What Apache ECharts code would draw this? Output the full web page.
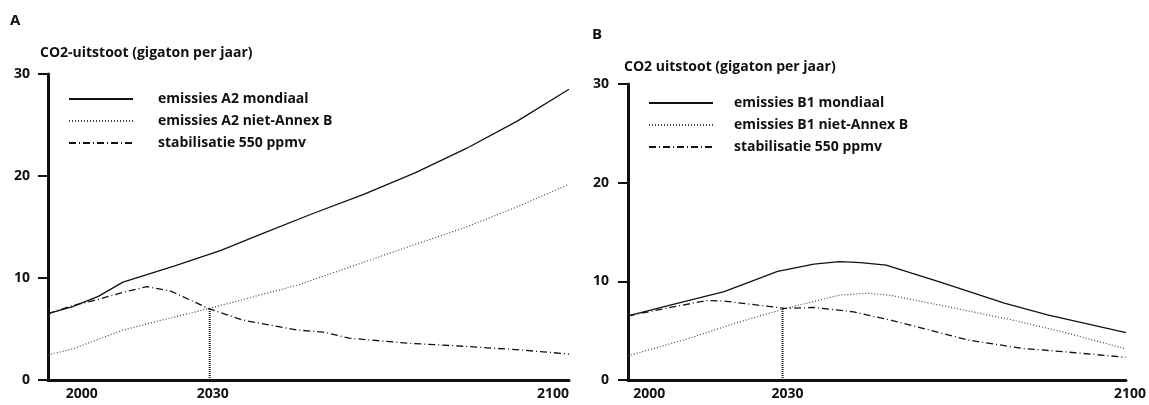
<!DOCTYPE html>
<html><head><meta charset="utf-8">
<script src="https://cdn.jsdelivr.net/npm/echarts@6/dist/echarts.min.js"></script>
<style>html,body{margin:0;padding:0;background:#fff}#c{width:1149px;height:405px}</style>
</head><body><div id="c"></div>
<script>
// ---- data ----
const yMax = 30;
const yStep = 10;
const xTickYears = [2000, 2030, 2100];
const xStartYear = 1998.5;
const xEndYear = 2100;

// Panel A
const a2WorldYears  = [1998.5, 2003.3, 2008.3, 2013.1, 2023.2, 2032.2, 2040, 2050, 2060, 2070, 2080, 2090, 2100];
const a2WorldValues = [6.5, 7.2, 8.2, 9.6, 11.2, 12.7, 14.3, 16.3, 18.2, 20.3, 22.7, 25.4, 28.5];
const a2NonAnnexYears  = [1998.5, 2003.6, 2013.1, 2021.7, 2029.8, 2047.1, 2066.6, 2080, 2090, 2100];
const a2NonAnnexValues = [2.45, 3.1, 4.9, 6.0, 7.0, 9.3, 12.7, 15.0, 17.0, 19.2];
const a2StabYears  = [1998.5, 2003.3, 2008.3, 2013.1, 2017.7, 2022.5, 2026.8, 2029.8, 2036.2, 2047.1, 2052.1, 2057.2, 2068.8, 2079.7, 2090.5, 2100];
const a2StabValues = [6.5, 7.3, 7.9, 8.6, 9.15, 8.7, 7.7, 7.0, 5.9, 4.9, 4.7, 4.1, 3.6, 3.3, 2.95, 2.55];

// Panel B
const b1WorldYears  = [1998.5, 2007.1, 2018.1, 2029.0, 2036.4, 2041.6, 2045.9, 2051.1, 2062.0, 2075.2, 2084.0, 2100];
const b1WorldValues = [6.5, 7.6, 8.95, 11.0, 11.75, 12.0, 11.9, 11.65, 9.95, 7.8, 6.6, 4.8];
const b1NonAnnexYears  = [1998.5, 2010.8, 2020.3, 2030.6, 2041.6, 2047.4, 2051.8, 2062, 2076.7, 2087.7, 2100];
const b1NonAnnexValues = [2.45, 4.2, 5.75, 7.25, 8.6, 8.8, 8.6, 7.6, 6.1, 4.8, 3.15];
const b1StabYears  = [1998.5, 2007.1, 2014.5, 2018.1, 2030.6, 2036.4, 2044.5, 2052.6, 2067.8, 2078.9, 2087.7, 2100];
const b1StabValues = [6.5, 7.35, 8.05, 8.0, 7.25, 7.35, 6.9, 6.0, 4.05, 3.2, 2.85, 2.3];

// vertical drop lines at 2030
const dropYear = 2030;
const dropValueA = 7.0;
const dropValueB = 7.25;

const namesA = ['emissies A2 mondiaal', 'emissies A2 niet-Annex B', 'stabilisatie 550 ppmv'];
const namesB = ['emissies B1 mondiaal', 'emissies B1 niet-Annex B', 'stabilisatie 550 ppmv '];
const titleA = 'CO2-uitstoot (gigaton per jaar)';
const titleB = 'CO2 uitstoot (gigaton per jaar)';

// ---- build ----
const pair = (xs, ys) => xs.map((x, i) => [x, ys[i]]);
const FONT = '"Open Sans", "DejaVu Sans", sans-serif';
const INK = '#111';
const FS = 14;

const solid = { color: INK, width: 1.3, type: 'solid' };
const dotted = { color: '#444', width: 1.2, type: [1, 2] };
const dashdot = { color: INK, width: 1.3, type: [7, 3, 1, 3] };
const dropStyle = { color: INK, width: 2, type: [1, 1] };

function lineSeries(name, xs, ys, style, idx) {
  return {
    type: 'line', name, data: pair(xs, ys), xAxisIndex: idx, yAxisIndex: idx,
    symbol: 'none', showSymbol: false, lineStyle: style, itemStyle: { color: style.color },
    silent: true, z: 3
  };
}

function xLabelFormatter(shifts) {
  return function (v) {
    const k = 'y' + v;
    return shifts[k] !== undefined ? '{' + k + '|' + v + '}' : String(v);
  };
}
function richFor(shifts) {
  const r = {};
  Object.keys(shifts).forEach(k => {
    const d = shifts[k];
    r[k] = { fontFamily: FONT, fontWeight: 'bold', fontSize: FS, color: INK,
      padding: d >= 0 ? [0, 0, 0, 2 * d] : [0, -2 * d, 0, 0] };
  });
  return r;
}
const shiftsA = { y2000: 26, y2030: 3, y2100: -16 };
const shiftsB = { y2000: 14, y2030: 5, y2100: 4 };

function xAxis(idx, shifts) {
  return {
    type: 'value', gridIndex: idx, min: xStartYear, max: xEndYear,
    axisLine: { show: true, lineStyle: { color: INK, width: 3 } },
    axisTick: { show: false }, splitLine: { show: false },
    axisLabel: {
      customValues: xTickYears, margin: 7, formatter: xLabelFormatter(shifts), rich: richFor(shifts),
      fontFamily: FONT, fontWeight: 'bold', fontSize: FS, color: INK, showMinLabel: true, showMaxLabel: true
    }
  };
}
function yAxis(idx, margin) {
  return {
    type: 'value', gridIndex: idx, min: 0, max: yMax, interval: yStep,
    axisLine: { show: true, onZero: false, lineStyle: { color: INK, width: 3 } },
    axisTick: { show: true, inside: false, length: 10, lineStyle: { color: INK, width: 2 } },
    splitLine: { show: false },
    axisLabel: { margin, fontFamily: FONT, fontWeight: 'bold', fontSize: FS, color: INK }
  };
}
function legend(names, left, top, pad) {
  return {
    data: names, left, top, orient: 'vertical', itemWidth: 64, itemHeight: 14, itemGap: 8,
    padding: 0, selectedMode: false,
    itemStyle: { opacity: 0 },
    formatter: (n) => n.trim(),
    textStyle: { fontFamily: FONT, fontWeight: 'bold', fontSize: FS, color: INK, padding: [0, 0, 0, pad] }
  };
}
const titleStyle = (size) => ({ fontFamily: FONT, fontWeight: 'bold', fontSize: size, color: INK });

const option = {
  animation: false,
  backgroundColor: '#fff',
  title: [
    { text: 'A', left: 10, top: 13, padding: 0, textStyle: titleStyle(15) },
    { text: titleA, left: 40, top: 46, padding: 0, textStyle: titleStyle(FS) },
    { text: 'B', left: 592, top: 27, padding: 0, textStyle: titleStyle(15) },
    { text: titleB, left: 624, top: 60, padding: 0, textStyle: titleStyle(FS) }
  ],
  legend: [legend(namesA, 68, 92, 20), legend(namesB, 648, 96, 16)],
  grid: [
    { left: 48, right: 580, top: 74, bottom: 25, containLabel: false },
    { left: 628, right: 19, top: 84, bottom: 25, containLabel: false }
  ],
  xAxis: [xAxis(0, shiftsA), xAxis(1, shiftsB)],
  yAxis: [yAxis(0, 18), yAxis(1, 19)],
  series: [
    lineSeries(namesA[0], a2WorldYears, a2WorldValues, solid, 0),
    lineSeries(namesA[1], a2NonAnnexYears, a2NonAnnexValues, dotted, 0),
    lineSeries(namesA[2], a2StabYears, a2StabValues, dashdot, 0),
    lineSeries('drop A', [dropYear, dropYear], [0, dropValueA], dropStyle, 0),
    lineSeries(namesB[0], b1WorldYears, b1WorldValues, solid, 1),
    lineSeries(namesB[1], b1NonAnnexYears, b1NonAnnexValues, dotted, 1),
    lineSeries(namesB[2], b1StabYears, b1StabValues, dashdot, 1),
    lineSeries('drop B', [dropYear, dropYear], [0, dropValueB], dropStyle, 1)
  ]
};

const chart = echarts.init(document.getElementById('c'), null, { renderer: 'canvas' });
chart.setOption(option);
</script>
</body></html>
